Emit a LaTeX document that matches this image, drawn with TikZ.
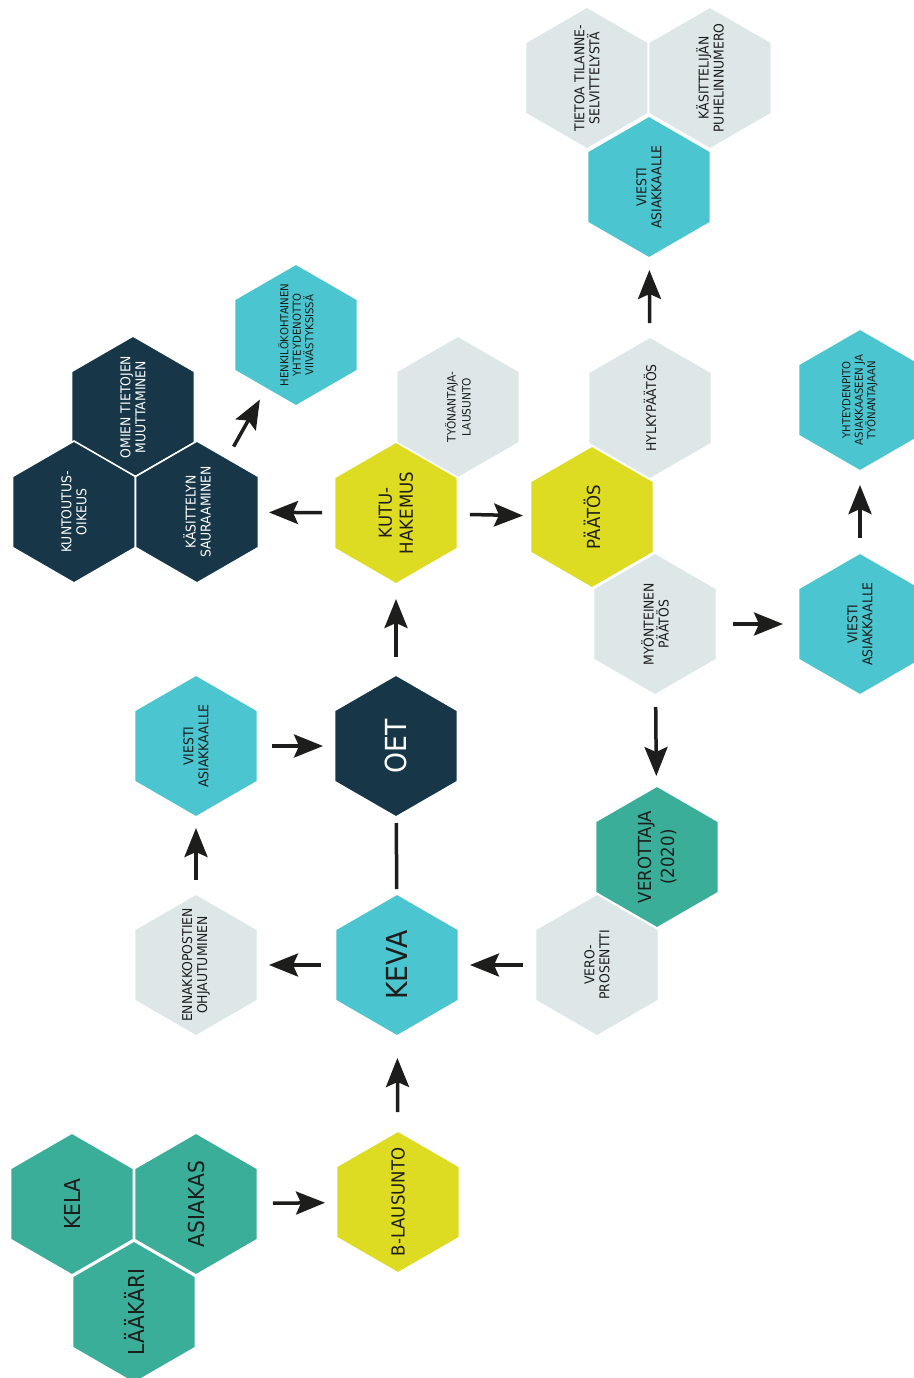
\documentclass[tikz,border=0pt]{standalone}
\usepackage{fontspec}
\setmainfont{DejaVu Sans}[FakeStretch=0.92]
\usetikzlibrary{shapes.geometric,arrows.meta}
\definecolor{navy}{HTML}{173748}
\definecolor{cyanh}{HTML}{4BC5CF}
\definecolor{greyh}{HTML}{DDE7E7}
\definecolor{yellowh}{HTML}{DEDC22}
\definecolor{greenh}{HTML}{3AAE98}
\definecolor{ink}{HTML}{1D1D1B}
\begin{document}
\begin{tikzpicture}[x=1pt,y=-1pt,
  hex/.style={regular polygon, regular polygon sides=6, minimum size=142pt,
    inner sep=0pt, outer sep=0pt, draw=white, line width=1.6pt, rotate=90},
  lbl/.style={rotate=90, align=center, text=ink, inner sep=0pt},
  wlbl/.style={lbl, text=white},
  navyhex/.style={hex, fill=navy},
  cyanhex/.style={hex, fill=cyanh},
  greyhex/.style={hex, fill=greyh},
  yellowhex/.style={hex, fill=yellowh},
  greenhex/.style={hex, fill=greenh},
  fbig/.style={font=\fontsize{29}{33}\selectfont},
  fmed/.style={font=\fontsize{22}{26}\selectfont},
  fmid/.style={font=\fontsize{18}{21}\selectfont},
  fsmall/.style={font=\fontsize{13.5}{15}\selectfont},
  ftiny/.style={font=\fontsize{11}{12.5}\selectfont},
  arr/.style={line width=3.5pt, draw=ink, -{Stealth[length=29pt,width=23pt,inset=5pt]}},
  link/.style={line width=3.5pt, draw=ink}
]
\useasboundingbox (0,0) rectangle (913,1378);
\fill[white] (0,0) rectangle (913,1378);

% top cluster
\node[greyhex, label={[lbl,fsmall]center:TIETOA TILANNE-\\SELVITTELYSTÄ}] (tieto) at (587,78) {};
\node[greyhex, label={[lbl,fsmall]center:KÄSITTELIJÄN\\PUHELINNUMERO}] (kasp) at (710,78) {};
\node[cyanhex, label={[lbl,fsmall]center:VIESTI\\ASIAKKAALLE}] (viestiT) at (649,187) {};

% upper middle
\node[cyanhex, label={[lbl,ftiny]center:HENKILÖKOHTAINEN\\YHTEYDENOTTO\\VIIVÄSTYKSISSÄ}] (henk) at (296,335) {};
\node[greyhex, label={[lbl,font=\fontsize{11.5}{15}\selectfont]center:TYÖNANTAJA-\\LAUSUNTO}] (tyon) at (458,407) {};
\node[yellowhex, label={[lbl,fmid]center:KUTU-\\HAKEMUS}] (kutu) at (396,513) {};

\node[navyhex, label={[wlbl,fsmall]center:OMIEN TIETOJEN\\MUUTTAMINEN}] (omien) at (133,407) {};
\node[navyhex, label={[wlbl,fsmall]center:KUNTOUTUS-\\OIKEUS}] (kunt) at (74,512) {};
\node[navyhex, label={[wlbl,fsmall]center:KÄSITTELYN\\SAURAAMINEN}] (kasa) at (197,512) {};

\node[greyhex, label={[lbl,fsmall]center:HYLKYPÄÄTÖS}] (hylky) at (650,408) {};
\node[yellowhex, label={[lbl,fmid]center:PÄÄTÖS}] (paat) at (592,517) {};
\node[greyhex, label={[lbl,fsmall]center:MYÖNTEINEN\\PÄÄTÖS}] (myont) at (655,624) {};

\node[cyanhex, label={[lbl,ftiny]center:YHTEYDENPITO\\ASIAKKAASEEN JA\\TYÖNANTAJAAN}] (yhtey) at (860,400) {};
\node[cyanhex, label={[lbl,fsmall]center:VIESTI\\ASIAKKAALLE}] (viestiR) at (860,624) {};

% middle
\node[cyanhex, label={[lbl,fsmall]center:VIESTI\\ASIAKKAALLE}] (viestiL) at (196,746) {};
\node[navyhex, label={[wlbl,fbig]center:OET}] (oet) at (396,746) {};
\node[greyhex, label={[lbl,fsmall]center:ENNAKKOPOSTIEN\\OHJAUTUMINEN}] (ennak) at (196,965) {};
\node[cyanhex, label={[lbl,fbig]center:KEVA}] (keva) at (397,965) {};
\node[greenhex, label={[lbl,font=\fontsize{18}{23}\selectfont]center:VEROTTAJA\\(2020)}] (verott) at (657,857) {};
\node[greyhex, label={[lbl,fsmall]center:VERO-\\PROSENTTI}] (veropr) at (597,965) {};

% bottom cluster
\node[greenhex, label={[lbl,fmed]center:KELA}] (kela) at (72,1204) {};
\node[greenhex, label={[lbl,fmed]center:ASIAKAS}] (asiak) at (196,1204) {};
\node[greenhex, label={[lbl,fmed]center:LÄÄKÄRI}] (laak) at (134,1312) {};
\node[yellowhex, label={[lbl,fmid]center:B-LAUSUNTO}] (blaus) at (398,1202) {};

% connectors
\draw[arr, shorten <=77pt, shorten >=73pt] (asiak.center) -- (blaus.center);
\draw[arr, shorten <=90pt, shorten >=93pt] (blaus.center) -- (keva.center);
\draw[arr, shorten <=76pt, shorten >=73pt] (keva.center) -- (ennak.center);
\draw[arr, shorten <=74pt, shorten >=73pt] (veropr.center) -- (keva.center);
\draw[arr, shorten <=85pt, shorten >=82pt] (ennak.center) -- (viestiL.center);
\draw[arr, shorten <=76pt, shorten >=73pt] (viestiL.center) -- (oet.center);
\draw[link, shorten <=77pt, shorten >=76pt] (oet.center) -- (keva.center);
\draw[arr, shorten <=89pt, shorten >=86pt] (oet.center) -- (kutu.center);
\draw[arr, shorten <=74pt, shorten >=72pt] (kutu.center) -- (kasa.center);
\draw[arr, shorten <=75pt, shorten >=74pt] (kasa.center) -- (henk.center);
\draw[arr, shorten <=74pt, shorten >=69pt] (kutu.center) -- (paat.center);
\draw[arr, shorten <=85pt, shorten >=83pt] (hylky.center) -- (viestiT.center);
\draw[arr, shorten <=78pt, shorten >=77pt] (myont.center) -- (viestiR.center);
\draw[arr, shorten <=86pt, shorten >=85pt] (viestiR.center) -- (yhtey.center);
\draw[arr, shorten <=83pt, shorten >=81pt] (myont.center) -- (verott.center);
\end{tikzpicture}
\end{document}
